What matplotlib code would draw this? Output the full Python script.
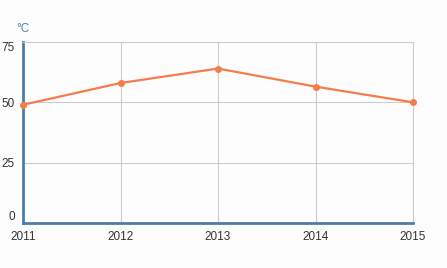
import matplotlib.pyplot as plt

plt.rcParams['font.family'] = ['Liberation Sans', 'DejaVu Sans']

years = [2011, 2012, 2013, 2014, 2015]
temps = [49, 58, 64, 56.5, 50]
y_ticks = [0, 25, 50, 75]

fig = plt.figure(figsize=(4.47, 2.68), dpi=100, facecolor='#fdfdfd')
ax = fig.add_axes([23 / 447, 1 - 223 / 268, 390 / 447, 181 / 268])
ax.set_facecolor('#fdfdfd')

ax.plot(years, temps, color='#f47d4a', linewidth=1.6, marker='o', markersize=4,
        clip_on=False, zorder=3)

ax.set_xlim(2011, 2015)
ax.set_ylim(0, 75)
ax.set_xticks(years)
ax.set_yticks(y_ticks)
ax.grid(True, color='#cccccc', linewidth=0.8)
ax.tick_params(length=0, labelsize=8.5, labelcolor='#333333')
ax.tick_params(axis='x', pad=6)
ax.tick_params(axis='y', pad=6)

# align outer y labels inward like the reference
labels = ax.get_yticklabels()
labels[0].set_va('bottom')
labels[-1].set_va('top')

for side in ['top', 'right']:
    ax.spines[side].set_color('#cccccc')
    ax.spines[side].set_linewidth(0.8)
for side in ['left', 'bottom']:
    ax.spines[side].set_color('#4a7fad')
    ax.spines[side].set_linewidth(2)

fig.text(16 / 447, 1 - 29 / 268, '°C', color='#4a7fad', fontsize=8.5, va='center')

fig.savefig('out.png', dpi=100, facecolor=fig.get_facecolor())
